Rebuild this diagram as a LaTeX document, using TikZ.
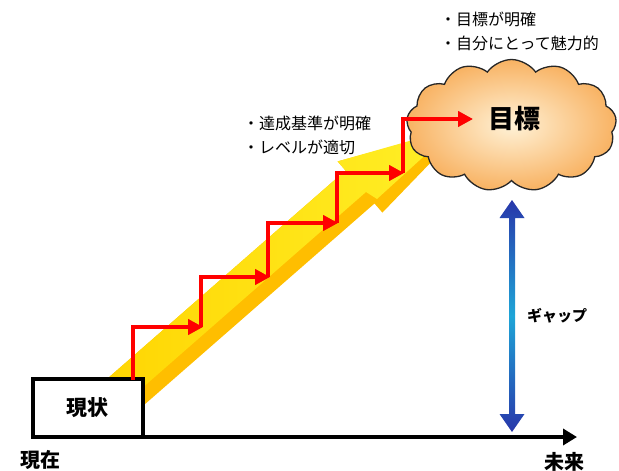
\documentclass[tikz,border=0pt]{standalone}
\usepackage{fontspec}
\setmainfont{Noto Sans CJK JP}
\usetikzlibrary{arrows.meta,shapes.symbols}
\definecolor{gold}{RGB}{255,190,0}
\definecolor{lightyel}{RGB}{255,212,0}
\definecolor{paleyel}{RGB}{255,240,40}
\definecolor{stairred}{RGB}{255,0,0}
\definecolor{gapblue}{RGB}{40,55,170}
\definecolor{gapcyan}{RGB}{30,165,215}
\definecolor{cloudin}{RGB}{255,242,215}
\definecolor{cloudout}{RGB}{248,178,98}
\begin{document}
\begin{tikzpicture}[x=1pt,y=-1pt,
  stair/.style={draw=stairred, line width=4pt, -{Triangle[length=15pt,width=15pt]}},
  stairshadow/.style={draw=black, opacity=0.22, line width=4pt, -{Triangle[length=15pt,width=15pt]}},
  bullet/.style={font=\fontsize{16}{24}\selectfont, align=left, anchor=west, inner sep=0pt},
  boldlabel/.style={font=\bfseries\fontsize{#1}{#1}\selectfont, inner sep=0pt},
  axisline/.style={line width=4pt, -{Triangle[length=14pt,width=16pt]}}
]
\useasboundingbox (0,0) rectangle (619,471);

% yellow big arrow (its tip runs behind the cloud)
\fill[gold] (84.9,398.3) -- (345.5,170.5) -- (337.6,161.4) -- (465,127)
  -- (382.4,212.6) -- (374.5,203.5) -- (113.9,431.3) -- cycle;
\shade[left color=lightyel, right color=paleyel] (84.9,398.3) -- (345.5,170.5) -- (337.6,161.4) -- (455,128)
  -- (377,199) -- (366,192) -- (104.7,420.8) -- cycle;

% current state box
\node[draw=black, line width=3.5pt, fill=white, minimum width=110pt, minimum height=58pt, inner sep=0pt] (now) at (88,408) {};
\node[boldlabel=21] (nowtext) at (87,408) {現状};

% axis
\coordinate (origin) at (33,437);
\coordinate (future) at (577,437);
\draw[axisline] (origin) -- (future);
\node[boldlabel=20] (nowlabel) at (40,460) {現在};
\node[boldlabel=20] (futurelabel) at (564,462) {未来};

% cloud
\node[cloud, cloud puffs=13, cloud puff arc=110, aspect=1.6, minimum width=210pt, minimum height=132pt,
  draw=black!85, line width=1.3pt, inner color=cloudin, outer color=cloudout] (goal) at (511.5,125.5) {};
\node[boldlabel=26] (goaltext) at (514,119) {目標};

% gap arrow
\coordinate (gaptop) at (512,200);
\coordinate (gapbot) at (512,432);
\shade[top color=gapblue, bottom color=gapblue, middle color=gapcyan]
  (gaptop) -- (524.5,218) -- (515,218) -- (515,414) -- (524.5,414) -- (gapbot)
  -- (499.5,414) -- (509,414) -- (509,218) -- (499.5,218) -- cycle;
\node[boldlabel=15] (gaplabel) at (557,316) {ギャップ};

% staircase
\coordinate (s0) at (133,380);
\coordinate (t1) at (203,327);
\coordinate (s1) at (201,327);
\coordinate (t2) at (270,277);
\coordinate (s2) at (268,277);
\coordinate (t3) at (338,223);
\coordinate (s3) at (337,223);
\coordinate (t4) at (404,173);
\coordinate (s4) at (403,173);
\coordinate (t5) at (473,119);
\begin{scope}[shift={(2.5,2.5)}]
\draw[stairshadow] (s0) |- (t1);
\draw[stairshadow] (s1) |- (t2);
\draw[stairshadow] (s2) |- (t3);
\draw[stairshadow] (s3) |- (t4);
\draw[stairshadow] (s4) |- (t5);
\end{scope}
\draw[stair] (s0) |- (t1);
\draw[stair] (s1) |- (t2);
\draw[stair] (s2) |- (t3);
\draw[stair] (s3) |- (t4);
\draw[stair] (s4) |- (t5);

% bullet texts
\node[bullet] (goalnotes) at (440,31) {・目標が明確\\・自分にとって魅力的};
\node[bullet] (stepnotes) at (243,135.5) {・達成基準が明確\\・レベルが適切};
\end{tikzpicture}
\end{document}
